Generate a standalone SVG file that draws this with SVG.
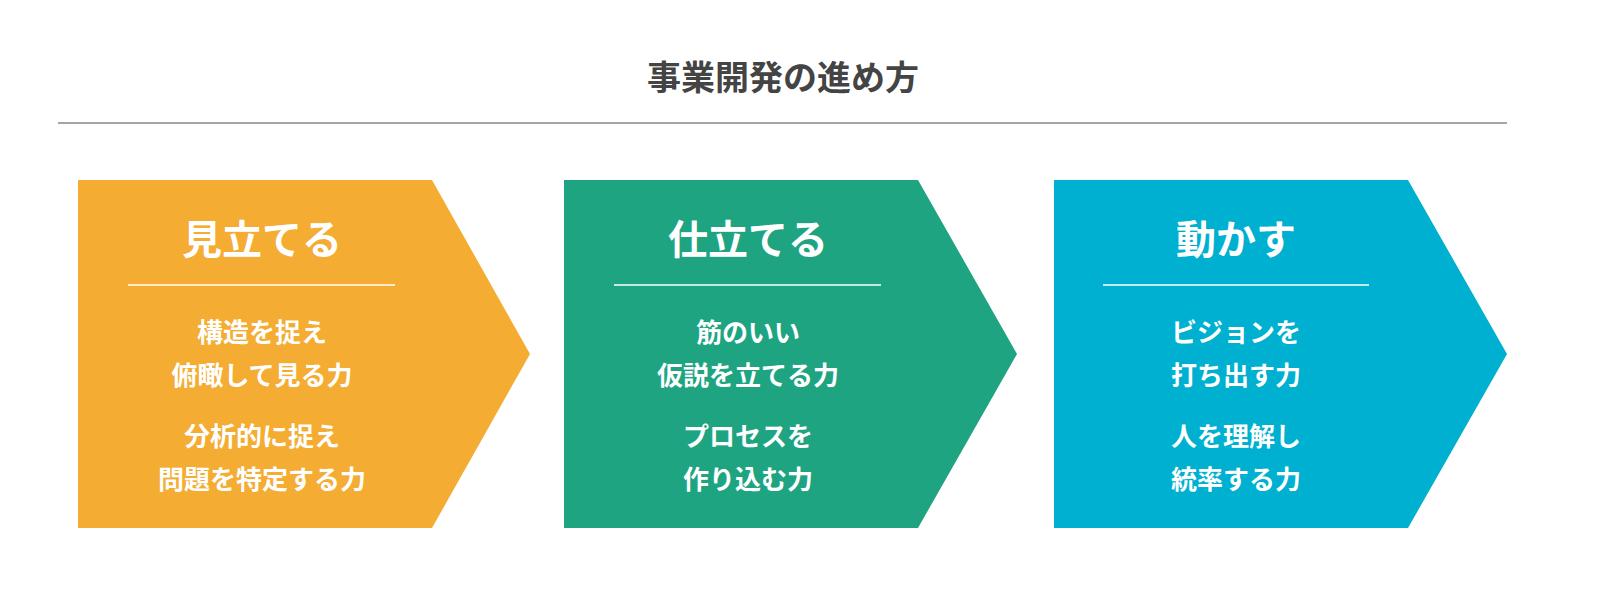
<svg xmlns="http://www.w3.org/2000/svg" width="1600" height="600" viewBox="0 0 1600 600">
<style>
text{font-family:"Noto Sans CJK JP","Noto Sans",sans-serif;font-weight:bold;text-anchor:middle}
.t{font-size:34px;fill:#444}
.h{font-size:40px;fill:#fff}
.b{font-size:26px;fill:#fff}
.w{stroke:#fff;stroke-width:1.5}
</style>
<rect width="1600" height="600" fill="#fff"/>
<text class="t" x="783" y="90">事業開発の進め方</text>
<line x1="58" y1="123" x2="1507" y2="123" stroke="#888" stroke-width="1.5"/>
<g id="n1">
<polygon points="78,180 432,180 530,354 432,528 78,528" fill="#F4AC33"/>
<text class="h" x="262" y="254">見立てる</text>
<line class="w" x1="128" y1="285" x2="395" y2="285"/>
<text class="b" x="262" y="342">構造を捉え</text>
<text class="b" x="262" y="385">俯瞰して見る力</text>
<text class="b" x="262" y="446">分析的に捉え</text>
<text class="b" x="262" y="489">問題を特定する力</text>
</g>
<g id="n2">
<polygon points="564,180 918,180 1017,354 918,528 564,528" fill="#1FA482"/>
<text class="h" x="748" y="254">仕立てる</text>
<line class="w" x1="614" y1="285" x2="881" y2="285"/>
<text class="b" x="748" y="342">筋のいい</text>
<text class="b" x="748" y="385">仮説を立てる力</text>
<text class="b" x="748" y="446">プロセスを</text>
<text class="b" x="748" y="489">作り込む力</text>
</g>
<g id="n3">
<polygon points="1054,180 1408,180 1507,354 1408,528 1054,528" fill="#00B0D0"/>
<text class="h" x="1236" y="254">動かす</text>
<line class="w" x1="1103" y1="285" x2="1369" y2="285"/>
<text class="b" x="1236" y="342">ビジョンを</text>
<text class="b" x="1236" y="385">打ち出す力</text>
<text class="b" x="1236" y="446">人を理解し</text>
<text class="b" x="1236" y="489">統率する力</text>
</g>
<g id="connectors"></g>
</svg>
